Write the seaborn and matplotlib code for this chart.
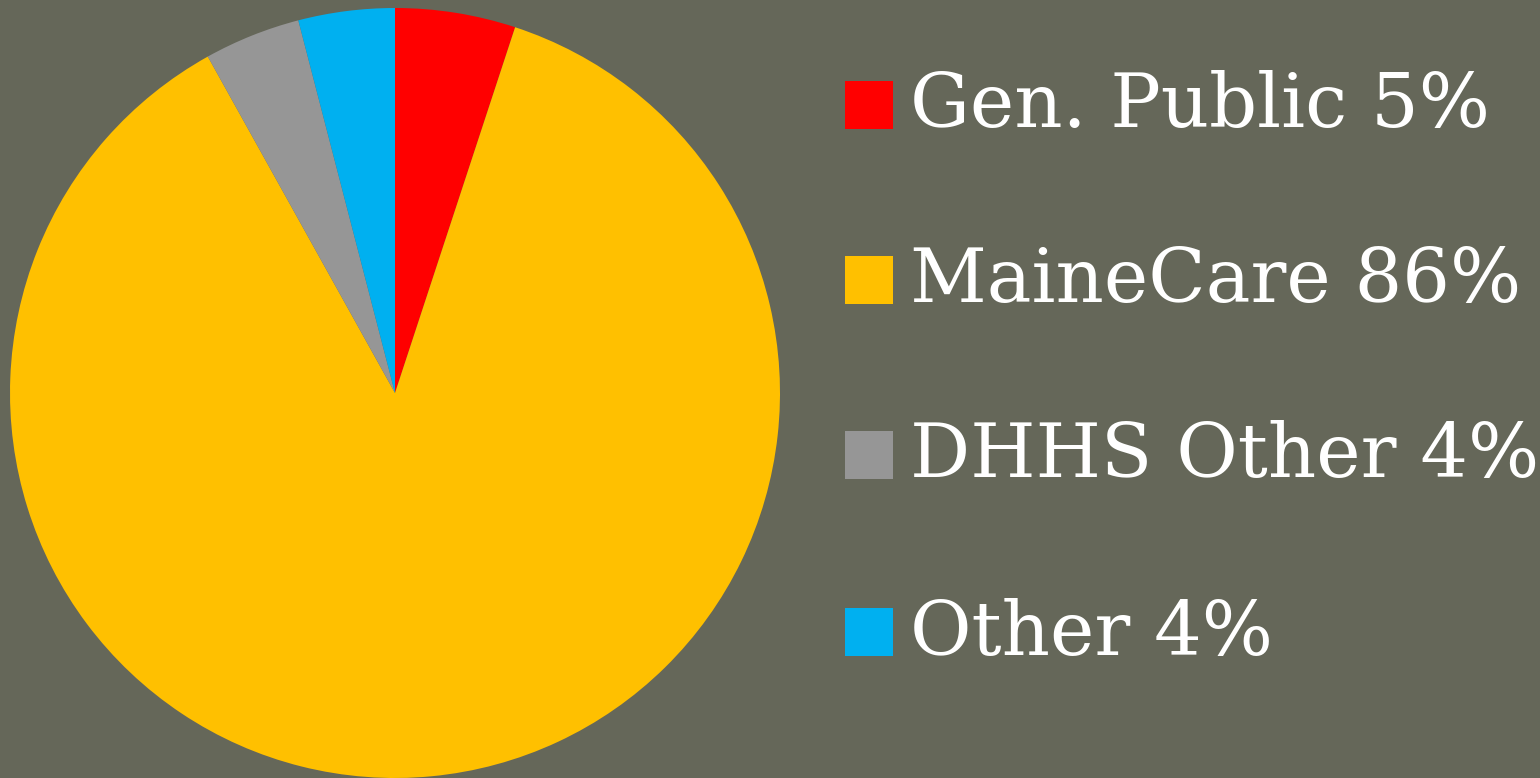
import matplotlib
matplotlib.use("Agg")
import matplotlib.pyplot as plt
from matplotlib.patches import Rectangle
import seaborn as sns

categories = ["Gen. Public", "MaineCare", "DHHS Other", "Other"]
values = [5, 86, 4, 4]
colors = ["#FF0000", "#FFC000", "#969696", "#00B0F0"]

BG = "#656759"
sns.set_theme(style="white")
plt.rcParams["font.family"] = ["DejaVu Serif", "DejaVu Sans"]

fig = plt.figure(figsize=(15.4, 7.78), dpi=100, facecolor=BG)
ax = fig.add_axes([10 / 1540, 0.0, 770 / 1540, 770 / 778])
ax.set_facecolor(BG)
ax.pie(values, colors=sns.color_palette(colors), startangle=90, counterclock=False,
       radius=1.0, wedgeprops=dict(linewidth=0))
ax.set_xlim(-1, 1)
ax.set_ylim(-1, 1)
ax.set_aspect("equal")
ax.axis("off")

W, H = 1540, 778
y_centers = [105, 280, 455, 632]
for i, (cat, val, col) in enumerate(zip(categories, values, colors)):
    yc = y_centers[i]
    fig.patches.append(Rectangle((845 / W, 1 - (yc + 24) / H), 48 / W, 48 / H,
                                 transform=fig.transFigure, facecolor=col,
                                 edgecolor="none"))
    fig.text(910 / W, 1 - (yc + 2) / H, f"{cat} {val}%", color="white",
             fontsize=54, va="center", ha="left")

fig.savefig("out.png", dpi=100, facecolor=BG)
